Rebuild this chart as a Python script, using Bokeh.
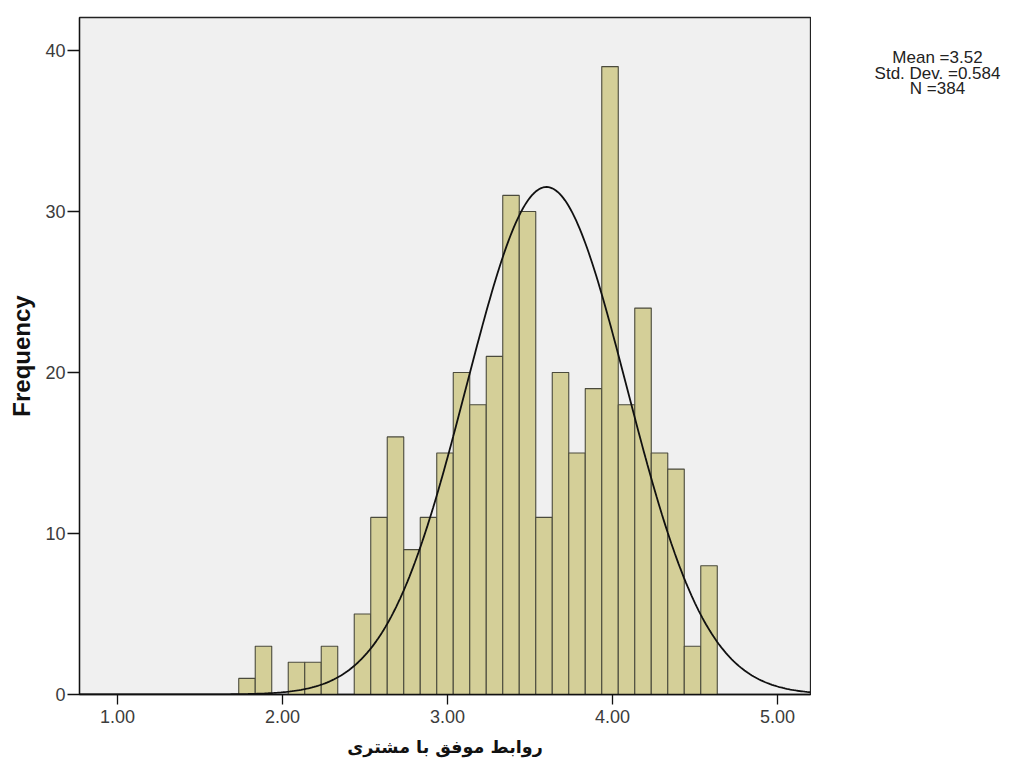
import numpy as np
from bokeh.plotting import figure
from bokeh.layouts import row
from bokeh.models import Range1d, FixedTicker, NumeralTickFormatter, ColumnDataSource
from bokeh.core.properties import value
from bokeh.embed import file_html
from bokeh.resources import INLINE

# ---- data ----
bin_centers = [1.785, 1.885, 1.985, 2.085, 2.185, 2.285, 2.385, 2.485, 2.585, 2.685,
               2.785, 2.885, 2.985, 3.085, 3.185, 3.285, 3.385, 3.485, 3.585, 3.685,
               3.785, 3.885, 3.985, 4.085, 4.185, 4.285, 4.385, 4.485, 4.585]
counts = [1, 3, 0, 2, 2, 3, 0, 5, 11, 16,
          9, 11, 15, 20, 18, 21, 31, 30, 11, 20,
          15, 19, 39, 18, 24, 15, 14, 3, 8]
bin_width = 0.1
curve_mean = 3.60
curve_sd = 0.486
n_total = 384
stats_lines = ["Mean =3.52", "Std. Dev. =0.584", "N =384"]
x_ticks = [1, 2, 3, 4, 5]
y_ticks = [0, 10, 20, 30, 40]
x_title = "روابط موفق با مشتری"
y_title = "Frequency"

FIG_H = 762

# ---- main histogram ----
p = figure(width=811, height=FIG_H, output_backend="svg", toolbar_location=None,
           x_range=Range1d(0.77, 5.2), y_range=Range1d(0, 42.05),
           min_border_left=79, min_border_right=1, min_border_top=17, min_border_bottom=FIG_H - 694)
p.background_fill_color = "#f0f0f0"
p.border_fill_color = "white"
p.outline_line_color = "#222222"
p.outline_line_width = 1.3
p.grid.visible = False

nz = [i for i, c in enumerate(counts) if c > 0]
src = ColumnDataSource(dict(
    left=[bin_centers[i] - bin_width / 2 for i in nz],
    right=[bin_centers[i] + bin_width / 2 for i in nz],
    top=[counts[i] for i in nz],
))
p.quad(left="left", right="right", bottom=0, top="top", source=src,
       fill_color="#d4cf98", line_color="#4a4a3c", line_width=1.1)

xs = np.linspace(0.77, 5.2, 400)
ys = n_total * bin_width / (curve_sd * np.sqrt(2 * np.pi)) * np.exp(-0.5 * ((xs - curve_mean) / curve_sd) ** 2)
p.line(xs, ys, line_color="#111111", line_width=1.8)

for ax in (p.xaxis[0], p.yaxis[0]):
    ax.axis_line_color = "#111111"
    ax.axis_line_width = 1.3
    ax.major_tick_line_color = "#111111"
    ax.major_tick_line_width = 1.3
    ax.major_tick_in = 0
    ax.minor_tick_line_color = None
    ax.major_label_text_font = "Liberation Sans"
    ax.major_label_text_font_size = "18px"
    ax.major_label_text_color = "#3c3c3c"
    ax.axis_label_text_font_style = "bold"
    ax.axis_label_text_color = "#111111"

p.xaxis.major_tick_out = 10
p.yaxis.major_tick_out = 12
p.xaxis.ticker = FixedTicker(ticks=x_ticks)
p.xaxis.formatter = NumeralTickFormatter(format="0.00")
p.yaxis.ticker = FixedTicker(ticks=y_ticks)
p.xaxis.axis_label = x_title
p.xaxis.axis_label_text_font = "DejaVu Sans"
p.xaxis.axis_label_text_font_size = "17.5px"
p.xaxis.axis_label_standoff = 11
p.yaxis.axis_label = y_title
p.yaxis.axis_label_text_font = "Liberation Sans"
p.yaxis.axis_label_text_font_size = "24px"
p.yaxis.axis_label_standoff = 7
p.xaxis.major_label_standoff = 5
p.yaxis.major_label_standoff = 2

# ---- side panel with summary statistics ----
SIDE_W = 203
side = figure(width=SIDE_W, height=FIG_H, output_backend="svg", toolbar_location=None,
              x_range=Range1d(0, SIDE_W), y_range=Range1d(FIG_H, 0),
              min_border=0)
side.axis.visible = False
side.grid.visible = False
side.outline_line_color = None
side.background_fill_color = "white"
side.border_fill_color = "white"
side.text(x=[126, 126, 126], y=[45, 62.5, 80], text=stats_lines,
          text_align="center", text_baseline="middle",
          text_font=value("Liberation Sans"), text_font_size="17px", text_color="#222222")

layout = row(p, side, spacing=0)
open("out.html", "w").write(file_html(layout, INLINE))
